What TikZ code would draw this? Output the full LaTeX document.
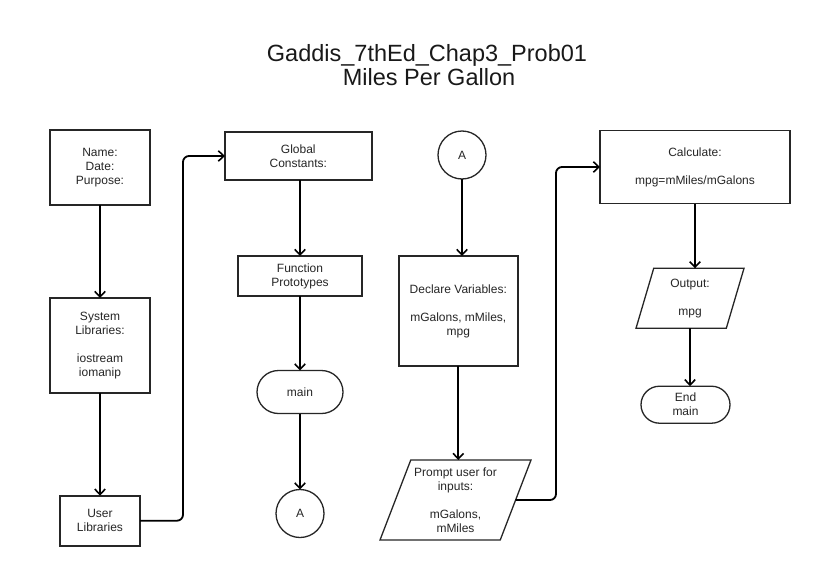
\documentclass[tikz,border=0pt]{standalone}
\usepackage{fontspec}
\setmainfont{Liberation Sans}
\usetikzlibrary{arrows.meta,shapes.geometric}

\begin{document}
\begin{tikzpicture}[x=1pt,y=-1pt,
  txt/.style={font=\fontsize{12}{14}\selectfont, align=center, inner sep=0pt, outer sep=0pt, text=black!85},
  procbox/.style={txt, draw=black!85, line width=1.8pt, rectangle},
  terminal/.style={txt, draw=black!85, line width=1.3pt, rectangle, rounded corners=#1},
  connector/.style={txt, draw=black!85, line width=1.3pt, circle, minimum size=48pt},
  iobox/.style={txt, draw=black!85, line width=1.3pt, trapezium,
    trapezium stretches body=true, trapezium left angle=#1, trapezium right angle=180-#1},
  flow/.style={draw=black, line width=1.8pt, -{Straight Barb[length=5.5pt,width=10.5pt,line width=1.6pt]}},
  elbowflow/.style={flow, rounded corners=6pt},
  titletext/.style={anchor=base, inner sep=0pt, font=\fontsize{23.5}{23.5}\selectfont, text=black!90}
]
\useasboundingbox (0,0) rectangle (814,565);
\fill[white] (0,0) rectangle (814,565);

% title
\node[titletext] (title1) at (427,61.7) {Gaddis\_7thEd\_Chap3\_Prob01};
\node[titletext] (title2) at (429,85) {Miles Per Gallon};

% first column
\node[procbox, minimum width=100pt, minimum height=75pt] (name) at (100,167.5) {Name:\\Date:\\Purpose:};
\node[procbox, minimum width=100pt, minimum height=95pt] (sys) at (100,345.5) {System\\Libraries:\\[14pt]iostream\\iomanip};
\node[procbox, minimum width=80pt, minimum height=50pt] (usr) at (100,520.7) {User\\Libraries};

% second column
\node[procbox, minimum width=146.7pt, minimum height=48pt] (glob) at (298.3,156) {Global\\Constants:};
\node[procbox, minimum width=124.6pt, minimum height=40pt] (fp) at (300,276) {Function\\Prototypes};
\node[terminal=21.5pt, minimum width=86pt, minimum height=43pt] (main) at (300,392) {main};
\node[connector] (A1) at (300,513.5) {A};

% third column
\node[connector] (A2) at (462,155) {A};
\node[procbox, minimum width=119pt, minimum height=110pt] (decl) at (458.3,311) {Declare Variables:\\[14pt]mGalons, mMiles,\\mpg};
\node[iobox=64.6, minimum width=151pt, minimum height=80pt] (prompt) at (455.5,500) {Prompt user for\\inputs:\\[14pt]mGalons,\\mMiles};

% fourth column
\node[procbox, minimum width=190pt, minimum height=73pt] (calc) at (695,167) {Calculate:\\[14pt]mpg=mMiles/mGalons};
\node[iobox=65.5, minimum width=108pt, minimum height=60pt] (out) at (690,298.3) {Output:\\[14pt]mpg};
\node[terminal=18.5pt, minimum width=89pt, minimum height=37pt] (endm) at (685.5,404.7) {End\\main};

% routing columns for the bent connectors
\coordinate (j1) at (183,0);
\coordinate (j2) at (556,0);

% connectors
\draw[flow] (name.south) -- (sys.north);
\draw[flow] (sys.south) -- (usr.north);
\draw[elbowflow] (usr.east) -| (j1 |- glob.west) -- (glob.west);
\draw[flow] (fp.north |- glob.south) -- (fp.north);
\draw[flow] (fp.south) -- (main.north);
\draw[flow] (main.south) -- (A1.north);
\draw[flow] (A2.south) -- (A2.south |- decl.north);
\draw[flow] (decl.south) -- (decl.south |- prompt.north);
\draw[elbowflow] (prompt.east) -| (j2 |- calc.west) -- (calc.west);
\draw[flow] (calc.south) -- (calc.south |- out.north);
\draw[flow] (out.south) -- (out.south |- endm.north);
\end{tikzpicture}
\end{document}
